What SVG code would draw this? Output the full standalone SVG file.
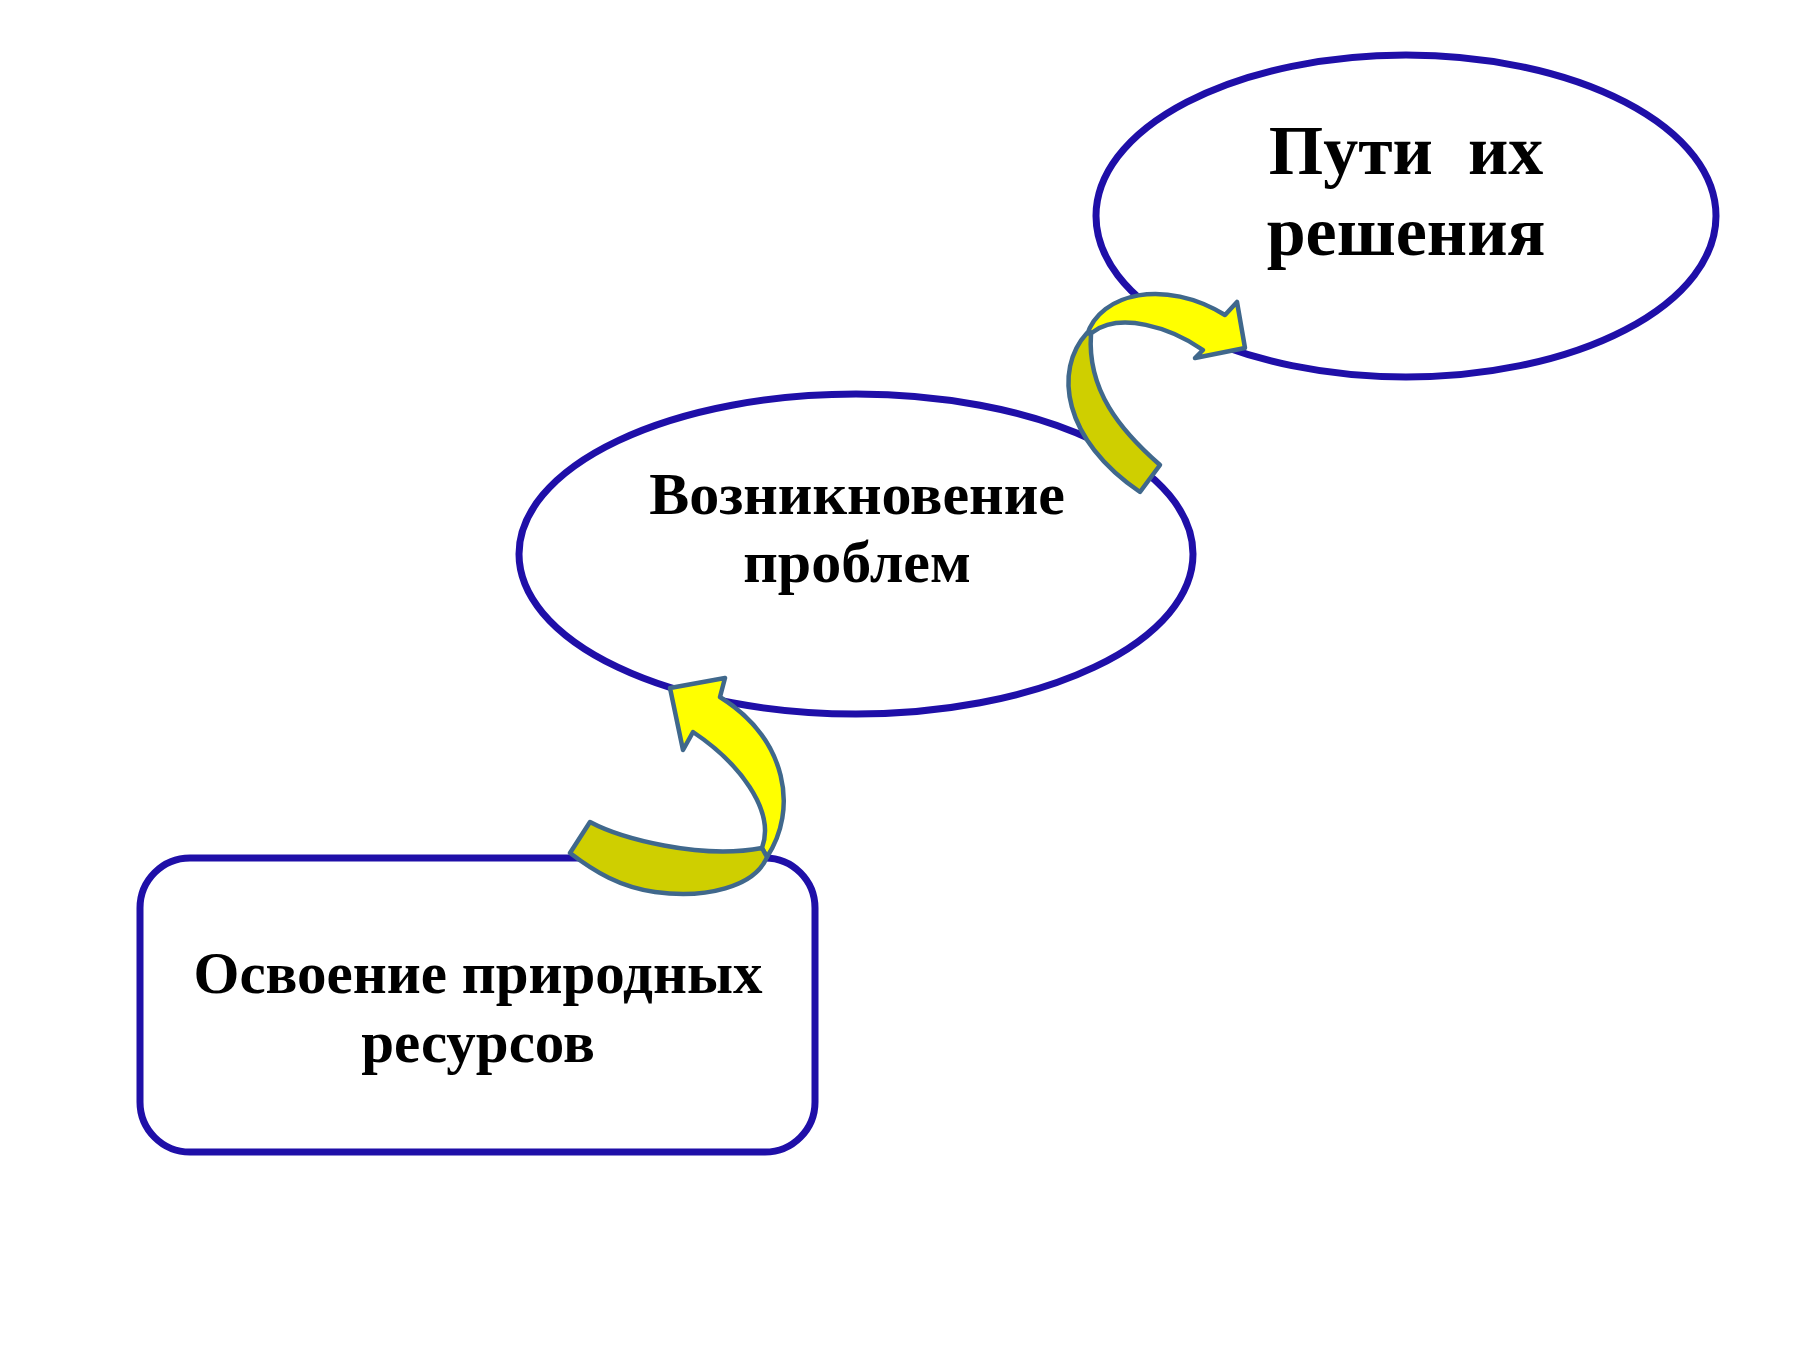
<svg xmlns="http://www.w3.org/2000/svg" width="1800" height="1350" viewBox="0 0 1800 1350">
<style>
.node{fill:#ffffff;stroke:#1f0fa8;stroke-width:7}
.lbl{font-family:"Liberation Serif","Times New Roman",serif;font-weight:bold;fill:#000;text-anchor:middle;white-space:pre}
.bright{fill:#ffff00;stroke:#40688c;stroke-width:4.5;stroke-linejoin:round}
.dark{fill:#cfcf00;stroke:#40688c;stroke-width:4.5;stroke-linejoin:round}
</style>
<rect width="1800" height="1350" fill="#ffffff"/>
<g id="node-osvoenie">
<rect class="node" x="140" y="858" width="675" height="294" rx="50" ry="50"/>
<text class="lbl" x="478" y="993" font-size="59">Освоение природных</text>
<text class="lbl" x="478" y="1062" font-size="59">ресурсов</text>
</g>
<g id="node-vozniknovenie">
<ellipse class="node" cx="856" cy="554" rx="337" ry="160"/>
<text class="lbl" x="857" y="514" font-size="60">Возникновение</text>
<text class="lbl" x="857" y="582" font-size="60">проблем</text>
</g>
<g id="node-puti">
<ellipse class="node" cx="1406" cy="216" rx="310" ry="161"/>
<text class="lbl" x="1406" y="174" font-size="70" xml:space="preserve">Пути  их</text>
<text class="lbl" x="1406" y="255" font-size="70">решения</text>
</g>
<g id="connectors">
<g id="arrow-1">
<path class="bright" d="M 767,857 C 798,810 788,740 720,697 L 725,678 L 670,688 L 683,750 L 693,732 C 738,762 776,810 762,848 Z"/>
<path class="dark" d="M 590,822 C 620,838 700,860 762,848 L 767,857 C 755,887 705,899 655,892 C 620,887 595,872 570,853 Z"/>
</g>
<g id="arrow-2">
<path class="bright" d="M 1087,335 C 1100,293 1165,278 1225,315 L 1237,302 L 1245,348 L 1195,358 L 1203,350 C 1170,327 1120,312 1093,332 Z"/>
<path class="dark" d="M 1160,465 C 1120,430 1087,390 1091,334 L 1087,333 C 1053,370 1063,440 1140,492 Z"/>
</g>
</g>
</svg>
